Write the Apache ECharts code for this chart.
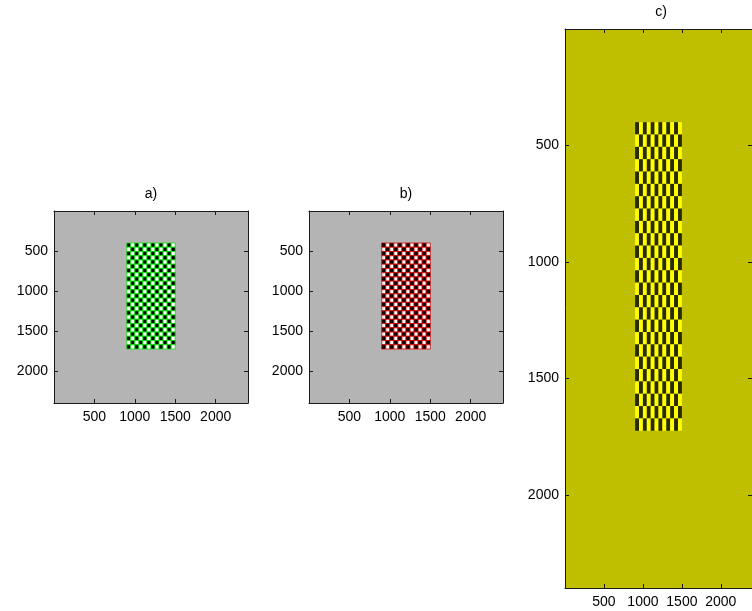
<!DOCTYPE html>
<html>
<head>
<meta charset="utf-8">
<script src="https://cdn.jsdelivr.net/npm/echarts@6/dist/echarts.min.js"></script>
<style>
html,body{margin:0;padding:0;background:#fff;}
#chart{width:752px;height:611px;}
</style>
</head>
<body>
<div id="chart"></div>
<script>
// ---- data ----
const panelTitles = ['a)', 'b)', 'c)'];
const tickValues = [500, 1000, 1500, 2000];
const axisRange = [0, 2400];
// checker cell edges (image pixel coordinates)
const xEdges = [900, 950, 1000, 1050, 1100, 1150, 1200, 1250, 1300, 1350, 1400, 1450, 1500];
const yEdges = [400, 453, 506, 559, 612, 665, 718, 771, 824, 877, 930, 983, 1036, 1089, 1142, 1195, 1248, 1301, 1354, 1407, 1460, 1513, 1566, 1619, 1672, 1725];

// ---- styling ----
const FONT = 'Liberation Sans, Arial, sans-serif';
const AXIS_COLOR = '#1a1a1a';
const panels = [
  { left: 54, top: 211, width: 194, height: 192, bg: '#b4b4b4', cells: ['#000000', '#ffffff'], stroke: '#10e010', titleX: 151, titleY: 187 },
  { left: 309, top: 211, width: 194, height: 192, bg: '#b4b4b4', cells: ['#000000', '#ffffff'], stroke: '#d00000', titleX: 406, titleY: 187 },
  { left: 565, top: 29, width: 192, height: 559, bg: '#bfbf00', cells: ['#2b2b00', '#ffff00'], stroke: null, titleX: 661, titleY: 5 }
];

// build cell list from edges
const cellData = [];
for (let j = 0; j < yEdges.length - 1; j++) {
  for (let i = 0; i < xEdges.length - 1; i++) {
    cellData.push([xEdges[i], xEdges[i + 1], yEdges[j], yEdges[j + 1], (i + j) % 2]);
  }
}

const grids = [], xAxes = [], yAxes = [], series = [], titles = [];
panels.forEach((p, k) => {
  grids.push({ left: p.left, top: p.top, width: p.width, height: p.height, show: true, backgroundColor: p.bg, borderWidth: 0, containLabel: false });
  titles.push({ text: panelTitles[k], left: p.titleX, top: p.titleY, textAlign: 'center', padding: 0,
    textStyle: { fontFamily: FONT, fontSize: 14, fontWeight: 'normal', color: '#000' } });
  const common = {
    type: 'value', gridIndex: k, min: axisRange[0], max: axisRange[1], interval: 500,
    splitLine: { show: false },
    axisLine: { show: true, onZero: false, lineStyle: { color: AXIS_COLOR, width: 1 } },
    axisTick: { show: true, inside: true, length: 4, customValues: tickValues, lineStyle: { color: AXIS_COLOR } }
  };
  const label = { show: true, customValues: tickValues, margin: 7, color: '#000', fontFamily: FONT, fontSize: 14,
    formatter: v => (tickValues.indexOf(v) >= 0 ? String(v) : '') };
  xAxes.push(Object.assign({}, common, { position: 'bottom', axisLabel: label }));
  xAxes.push(Object.assign({}, common, { position: 'top', axisLabel: { show: false } }));
  yAxes.push(Object.assign({}, common, { position: 'left', inverse: true, axisLabel: Object.assign({}, label, { margin: 6 }) }));
  yAxes.push(Object.assign({}, common, { position: 'right', inverse: true, axisLabel: { show: false } }));
  series.push({
    type: 'custom', xAxisIndex: k * 2, yAxisIndex: k * 2, data: cellData,
    encode: { x: [0, 1], y: [2, 3] }, silent: true,
    renderItem: function (params, api) {
      const a = api.coord([api.value(0), api.value(2)]);
      const b = api.coord([api.value(1), api.value(3)]);
      const style = { fill: p.cells[api.value(4)] };
      if (p.stroke) { style.stroke = p.stroke; style.lineWidth = 0.8; }
      return { type: 'rect', shape: { x: Math.min(a[0], b[0]), y: Math.min(a[1], b[1]), width: Math.abs(b[0] - a[0]), height: Math.abs(b[1] - a[1]) }, style: style };
    }
  });
});

const chart = echarts.init(document.getElementById('chart'), null, { renderer: 'canvas' });
chart.setOption({
  backgroundColor: '#ffffff',
  animation: false,
  title: titles,
  grid: grids,
  xAxis: xAxes,
  yAxis: yAxes,
  series: series
});
</script>
</body>
</html>
